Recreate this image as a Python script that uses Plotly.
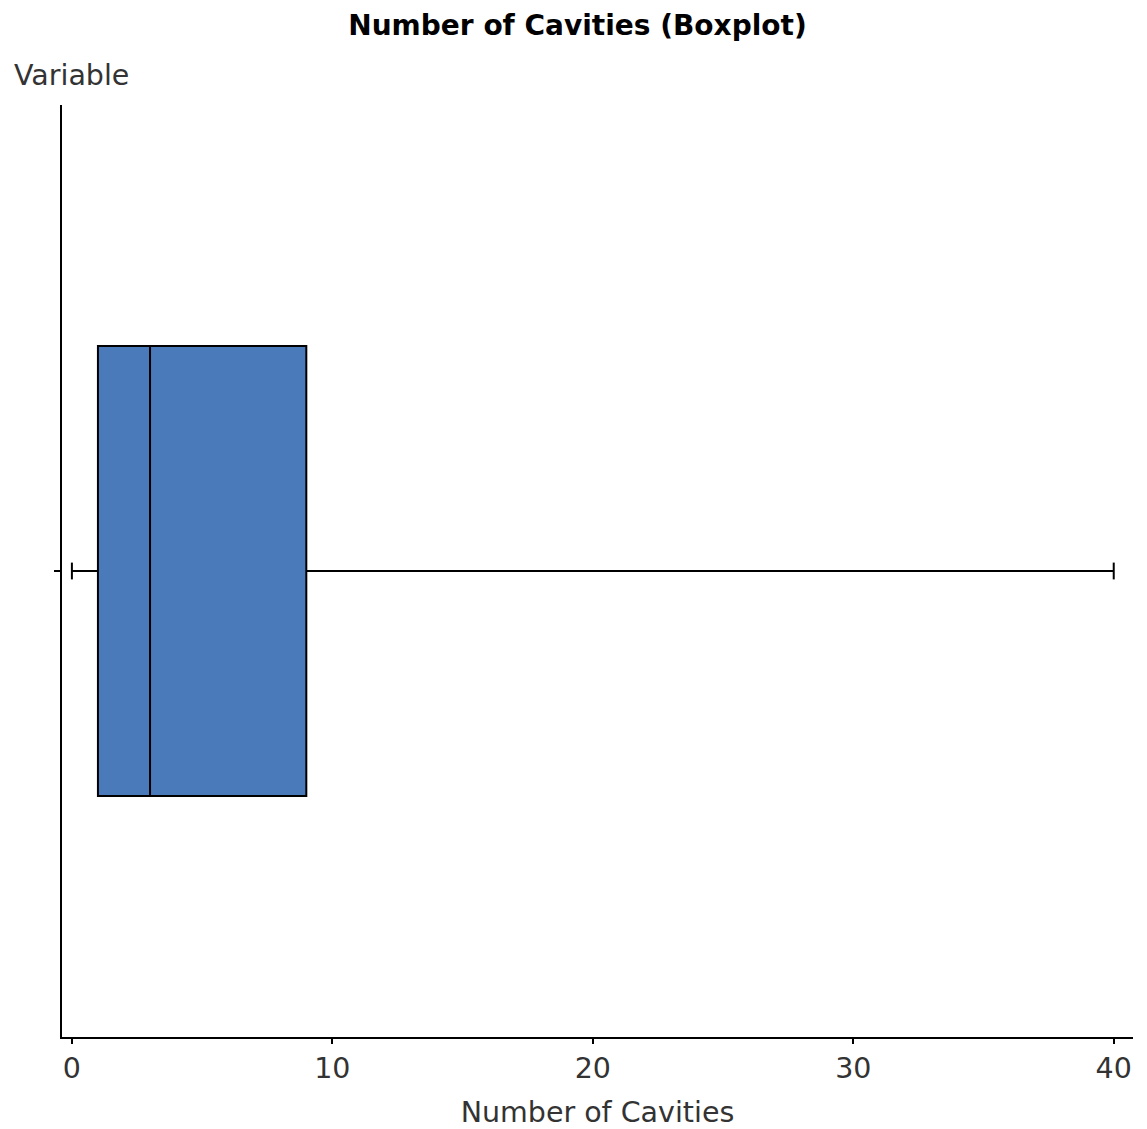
import plotly.graph_objects as go

# Summary statistics of the boxplot
variable = ["Number of Cavities"]
min_val = [0]
q1_val = [1]
median_val = [3]
q3_val = [9]
max_val = [40]
x_ticks = [0, 10, 20, 30, 40]

FONT = "DejaVu Sans"
BLUE = "#4a7aba"

# page body has an 8px margin, so the figure is sized/positioned to compensate
W, H = 1139, 1121
ML, MR, MT, MB = 54, 14, 97, 92
PW, PH = W - ML - MR, H - MT - MB

fig = go.Figure()
fig.add_trace(go.Box(
    y=[0],
    q1=q1_val, median=median_val, q3=q3_val,
    lowerfence=min_val, upperfence=max_val,
    orientation="h",
    width=0.966,
    fillcolor=BLUE,
    line=dict(color="black", width=2),
    whiskerwidth=0,
    boxpoints=False,
    hoverinfo="skip",
    showlegend=False,
))
# whisker caps
fig.add_trace(go.Scatter(
    x=[min_val[0], max_val[0]], y=[0, 0],
    mode="markers",
    marker=dict(symbol="line-ns", size=12, line=dict(color="black", width=2)),
    hoverinfo="skip",
    showlegend=False,
))

fig.update_layout(
    width=W, height=H,
    margin=dict(l=ML, r=MR, t=MT, b=MB, autoexpand=False),
    plot_bgcolor="white", paper_bgcolor="white",
    font=dict(family=FONT, size=28.5, color="#333333"),
    title=dict(text="<b>Number of Cavities (Boxplot)</b>", x=0.5, xanchor="center",
               y=1 - 17 / H, yanchor="middle",
               font=dict(family=FONT, size=28, color="black")),
    xaxis=dict(
        range=[-0.38, 40.74], tickmode="array", tickvals=x_ticks,
        ticks="outside", ticklen=5, tickwidth=2, tickcolor="black",
        showline=True, linecolor="black", linewidth=2,
        showgrid=False, zeroline=False,
        tickfont=dict(family=FONT, size=28.5, color="#333333"),
        title=dict(text="Number of Cavities", standoff=20,
                   font=dict(family=FONT, size=28.5, color="#333333")),
    ),
    yaxis=dict(
        range=[-1, 1], tickmode="array", tickvals=[0], ticktext=[""],
        ticks="outside", ticklen=6, tickwidth=2, tickcolor="black",
        showline=True, linecolor="black", linewidth=2,
        showgrid=False, zeroline=False,
    ),
    annotations=[dict(
        text="Variable", xref="paper", yref="paper",
        x=(4 - ML) / PW, xanchor="left",
        y=1 + (MT - 68) / PH, yanchor="middle",
        showarrow=False, font=dict(family=FONT, size=28.5, color="#333333"),
    )],
)

fig.write_html("out.html")
